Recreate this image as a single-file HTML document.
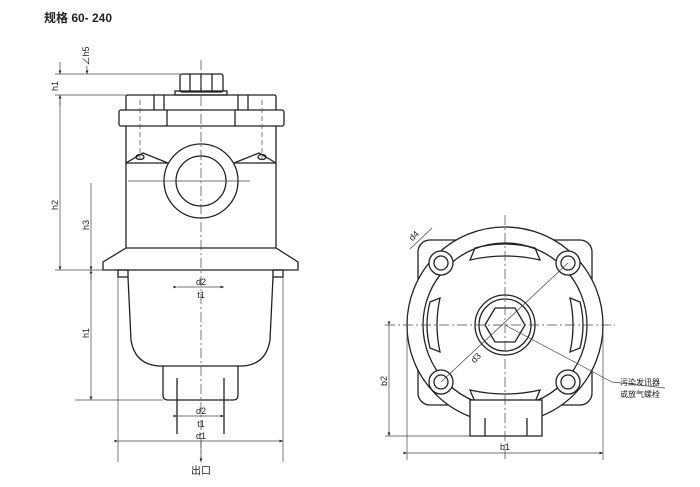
<!DOCTYPE html>
<html><head><meta charset="utf-8"><style>
body{margin:0;background:#fff}
svg{display:block}
text{font-family:"Liberation Sans","Noto Sans CJK SC",sans-serif;fill:#222}
</style></head><body>
<svg width="700" height="487" viewBox="0 0 700 487" xmlns="http://www.w3.org/2000/svg">
<defs><marker id="a" markerWidth="6" markerHeight="6" refX="5" refY="3" orient="auto"><path d="M0,1 L5,3 L0,5z" fill="#222"/></marker></defs>
<text x="44" y="22" font-size="12" font-weight="bold">规格 60- 240</text>
<g stroke="#222" fill="none" stroke-width="1.3">
<!-- cap -->
<rect x="180" y="74" width="43" height="18" rx="2"/>
<line x1="190" y1="74" x2="190" y2="92"/><line x1="201" y1="74" x2="201" y2="92"/><line x1="212" y1="74" x2="212" y2="92"/>
<rect x="175" y="91" width="52" height="4"/>
<path d="M126,110 V97 Q126,95 128,95 H274 Q276,95 276,97 V110"/>
<line x1="154" y1="95" x2="154" y2="110"/><line x1="164" y1="95" x2="164" y2="110"/><line x1="238" y1="95" x2="238" y2="110"/><line x1="248" y1="95" x2="248" y2="110"/>
<rect x="119" y="110" width="165" height="16" rx="2"/>
<line x1="167" y1="110" x2="167" y2="126"/><line x1="235" y1="110" x2="235" y2="126"/>
<path d="M126,126 V163 L276,163 V126" />
<path d="M126,163 L143,153 L168,163 M276,163 L259,153 L234,163"/>
<ellipse cx="140" cy="157" rx="4" ry="2.5"/><ellipse cx="262" cy="157" rx="4" ry="2.5"/>
<line x1="126" y1="163" x2="126" y2="248"/><line x1="276" y1="163" x2="276" y2="248"/>
<circle cx="201" cy="181" r="37" fill="#fff"/><circle cx="201" cy="181" r="25"/>
<path d="M126,248 H276 L298,262 V270 H103 V262 Z"/>
<rect x="118" y="270" width="10" height="7"/><rect x="273" y="270" width="10" height="7"/>
<path d="M128,277 L131,340 Q135,365 160,366 H242 Q266,365 270,340 L273,277"/>
<path d="M163,366 V395 Q163,400 168,400 H233 Q238,400 238,395 V366"/>
<line x1="177" y1="378" x2="177" y2="434"/><line x1="224" y1="378" x2="224" y2="434"/>
</g>
<g stroke="#444" fill="none" stroke-width="0.7">
<line x1="201" y1="60" x2="201" y2="460" stroke-dasharray="10,3,2,3"/>
<line x1="140" y1="100" x2="140" y2="160" stroke-dasharray="5,3"/><line x1="262" y1="100" x2="262" y2="160" stroke-dasharray="5,3"/>
<line x1="128" y1="181" x2="250" y2="181"/>
<line x1="55" y1="74" x2="180" y2="74"/><line x1="55" y1="95" x2="126" y2="95"/>
<line x1="55" y1="270" x2="103" y2="270"/><line x1="75" y1="400" x2="163" y2="400"/>
<line x1="60" y1="62" x2="60" y2="74" marker-end="url(#a)"/><line x1="60" y1="106" x2="60" y2="95" marker-end="url(#a)"/>
<line x1="60" y1="100" x2="60" y2="270" marker-end="url(#a)"/>
<line x1="91" y1="183" x2="91" y2="270" marker-end="url(#a)"/>
<line x1="91" y1="280" x2="91" y2="270" marker-end="url(#a)"/><line x1="91" y1="275" x2="91" y2="400" marker-end="url(#a)"/>
<line x1="87" y1="66" x2="87" y2="74" marker-end="url(#a)"/>
<line x1="177" y1="287" x2="224" y2="287" marker-start="url(#a)" marker-end="url(#a)"/>
<line x1="177" y1="416" x2="224" y2="416" marker-start="url(#a)" marker-end="url(#a)"/>
<line x1="118" y1="277" x2="118" y2="462"/><line x1="283" y1="277" x2="283" y2="462"/>
<line x1="118" y1="441" x2="283" y2="441" marker-start="url(#a)" marker-end="url(#a)"/>
<line x1="201" y1="441" x2="201" y2="462" marker-end="url(#a)"/>
</g>
<g font-size="9">
<text x="201" y="285" text-anchor="middle">d2</text><text x="201" y="298" text-anchor="middle">t1</text>
<text x="201" y="414" text-anchor="middle">d2</text><text x="201" y="427" text-anchor="middle">t1</text>
<text x="201" y="439" text-anchor="middle">d1</text>
<text x="58" y="205" transform="rotate(-90 58 205)" text-anchor="middle">h2</text>
<text x="89" y="225" transform="rotate(-90 89 225)" text-anchor="middle">h3</text>
<text x="89" y="333" transform="rotate(-90 89 333)" text-anchor="middle">h1</text>
<text x="58" y="86" transform="rotate(-90 58 86)" text-anchor="middle">h1</text>
<text x="89" y="56" transform="rotate(-90 89 56)" text-anchor="middle">∠h5</text>
</g>
<text x="201" y="474" font-size="10" text-anchor="middle">出口</text>
<!-- right view -->
<g stroke="#222" fill="none" stroke-width="1.3">
<rect x="418" y="240" width="174" height="165" rx="12"/>
<circle cx="505" cy="325" r="98" fill="#fff"/>
<circle cx="505" cy="325" r="82"/>
<path d="M470,260 L475,248 Q505,240 535,248 L540,260 Q505,252 470,260Z"/>
<path d="M470,390 L475,402 Q505,410 535,402 L540,390 Q505,398 470,390Z"/>
<path d="M440,298 L430,302 Q424,325 430,348 L440,352 Q434,325 440,298Z"/>
<path d="M570,298 L580,302 Q586,325 580,348 L570,352 Q576,325 570,298Z"/>
<circle cx="441" cy="263" r="12" fill="#fff"/><circle cx="441" cy="263" r="7"/>
<circle cx="568" cy="263" r="12" fill="#fff"/><circle cx="568" cy="263" r="7"/>
<circle cx="441" cy="382" r="12" fill="#fff"/><circle cx="441" cy="382" r="7"/>
<circle cx="568" cy="382" r="12" fill="#fff"/><circle cx="568" cy="382" r="7"/>
<circle cx="505" cy="325" r="30"/><circle cx="505" cy="325" r="26"/>
<polygon points="485,325 495,308 515,308 525,325 515,342 495,342"/>
<rect x="470" y="400" width="72" height="36" fill="#fff"/>
<line x1="485" y1="418" x2="485" y2="436"/><line x1="527" y1="418" x2="527" y2="436"/>
</g>
<g stroke="#444" fill="none" stroke-width="0.7">
<line x1="505" y1="215" x2="505" y2="460" stroke-dasharray="10,3,2,3"/>
<line x1="385" y1="325" x2="615" y2="325" stroke-dasharray="10,3,2,3"/>
<line x1="441" y1="382" x2="568" y2="263"/>
<line x1="505" y1="325" x2="612" y2="382"/><line x1="612" y1="382" x2="665" y2="388"/>
<line x1="385" y1="436" x2="470" y2="436"/>
<line x1="389" y1="325" x2="389" y2="436" marker-start="url(#a)" marker-end="url(#a)"/>
<line x1="407" y1="330" x2="407" y2="460"/><line x1="603" y1="330" x2="603" y2="460"/>
<line x1="407" y1="453" x2="603" y2="453" marker-start="url(#a)" marker-end="url(#a)"/>
<line x1="410" y1="249" x2="432" y2="228"/>
</g>
<g font-size="9">
<text x="505" y="450" text-anchor="middle">b1</text>
<text x="387" y="381" transform="rotate(-90 387 381)" text-anchor="middle">b2</text>
<text x="478" y="360" transform="rotate(-45 478 360)" text-anchor="middle">d3</text>
<text x="416" y="238" transform="rotate(-45 416 238)" text-anchor="middle">d4</text>
</g>
<g font-size="8"><text x="620" y="385">污染发讯器</text><text x="620" y="397">或放气螺栓</text></g>
</svg>
</body></html>
